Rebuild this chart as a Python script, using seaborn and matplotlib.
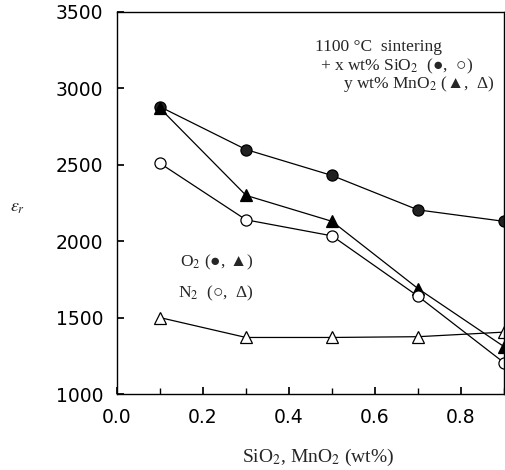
import matplotlib
matplotlib.use("Agg")
import matplotlib.pyplot as plt
import seaborn as sns
import pandas as pd
from matplotlib.ticker import MultipleLocator

x_wt = [0.1, 0.3, 0.5, 0.7, 0.9]
o2_sio2 = [2880, 2600, 2430, 2205, 2130]
o2_mno2 = [2870, 2300, 2130, 1690, 1310]
n2_sio2 = [2510, 2140, 2035, 1640, 1205]
n2_mno2 = [1500, 1370, 1370, 1375, 1405]
x_ticks = [0.0, 0.2, 0.4, 0.6, 0.8]
y_ticks = [1000, 1500, 2000, 2500, 3000, 3500]

sns.set_theme(style="ticks")
plt.rcParams['font.family'] = ['DejaVu Sans']
plt.rcParams['mathtext.fontset'] = 'stix'

fig = plt.figure(figsize=(5.06, 4.70), dpi=100)
ax = fig.add_axes([117/506, 1-394/470, (504-117)/506, (394-12)/470])

series = [
    (o2_sio2, dict(marker='o', markerfacecolor='#222222', markeredgecolor='black')),
    (o2_mno2, dict(marker='^', markerfacecolor='black', markeredgecolor='black')),
    (n2_sio2, dict(marker='o', markerfacecolor='white', markeredgecolor='black')),
    (n2_mno2, dict(marker='^', markerfacecolor='white', markeredgecolor='black')),
]
for vals, st in series:
    df = pd.DataFrame({'x': x_wt, 'y': vals})
    sns.lineplot(data=df, x='x', y='y', ax=ax, color='black', linewidth=0.9,
                 markersize=8, markeredgewidth=0.9, **st)

ax.set_xlim(0.0, 0.9)
ax.set_ylim(1000, 3500)
ax.set_xticks(x_ticks)
ax.set_xticklabels([f"{t:.1f}" for t in x_ticks])
ax.set_yticks(y_ticks)
ax.xaxis.set_minor_locator(MultipleLocator(0.1))
ax.tick_params(axis='both', which='both', direction='in', labelsize=13.5,
               colors='black')
ax.tick_params(which='major', length=5)
ax.tick_params(which='minor', length=4)
ax.tick_params(axis='x', pad=10)
ax.tick_params(axis='y', pad=10)
for s in ax.spines.values():
    s.set_visible(True)
    s.set_color('black')
    s.set_linewidth(1.0)
ax.set_xlabel('')
ax.set_ylabel('')

serif = ['Liberation Serif', 'DejaVu Serif']
fs = 12.5
ax.text(0.460, 3271, "1100 °C  sintering", family=serif, fontsize=fs, va='center')
ax.text(0.472, 3146, "+ x wt% SiO$_2$  (●,  ○)", family=serif, fontsize=fs, va='center')
ax.text(0.526, 3029, "y wt% MnO$_2$ (▲,  Δ)", family=serif, fontsize=fs, va='center')
ax.text(0.1465, 1864, "O$_2$ (●, ▲)", family=serif, fontsize=fs, va='center')
ax.text(0.142, 1661, "N$_2$  (○,  Δ)", family=serif, fontsize=fs, va='center')

fig.text(318/506, 1-457/470, "SiO$_2$, MnO$_2$ (wt%)", family=serif, fontsize=14,
         ha='center', va='center')
fig.text(18/506, 1-207/470, r"$\varepsilon_r$", fontsize=13, ha='center', va='center')

fig.savefig("out.png", dpi=100)
